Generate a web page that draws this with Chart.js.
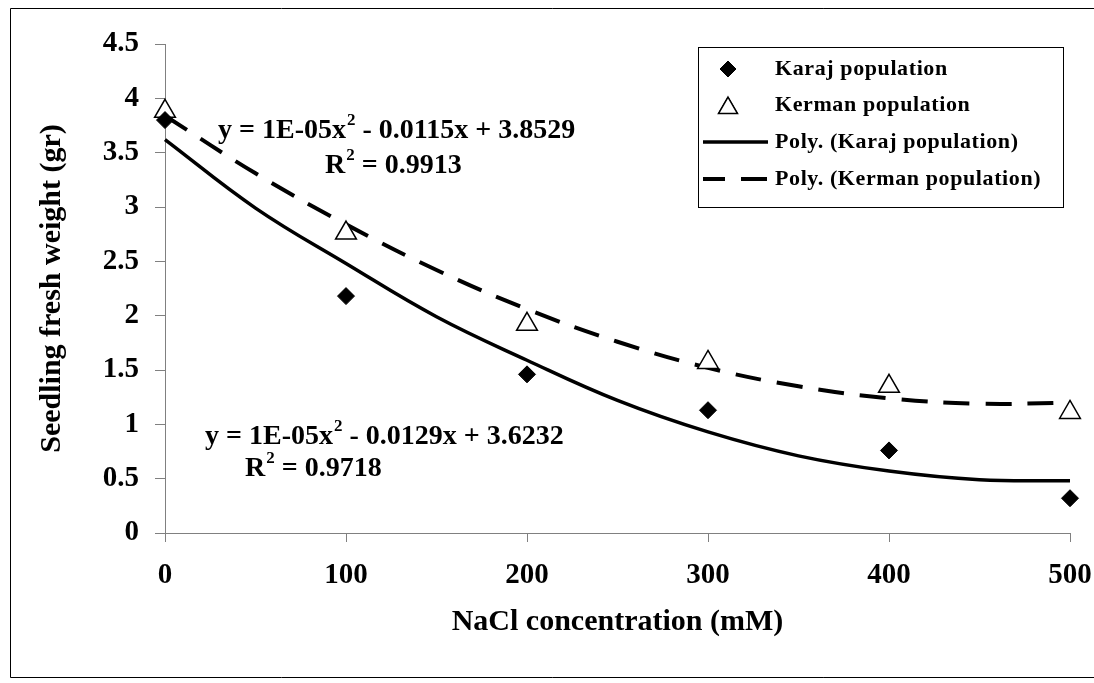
<!DOCTYPE html>
<html>
<head>
<meta charset="utf-8">
<script src="https://cdn.jsdelivr.net/npm/chart.js@4.4.0/dist/chart.umd.min.js"></script>
<style>
  html, body { margin: 0; padding: 0; background: #fff; }
  #wrap { width: 1094px; height: 683px; }
</style>
</head>
<body>
<div id="wrap"><canvas id="chart" width="1094" height="683"></canvas></div>
<script>
// data
const concentrations = [0, 100, 200, 300, 400, 500];
const karajWeight = [3.80, 2.18, 1.46, 1.13, 0.76, 0.32];
const kermanWeight = [3.88, 2.76, 1.92, 1.57, 1.35, 1.11];

// trend lines as drawn in the picture
const trendX = [0, 50, 100, 150, 200, 250, 300, 350, 400, 450, 500];
const karajTrend = [3.62, 2.99, 2.48, 1.99, 1.59, 1.22, 0.93, 0.71, 0.57, 0.49, 0.48];
const kermanTrend = [3.84, 3.31, 2.84, 2.42, 2.06, 1.76, 1.52, 1.35, 1.24, 1.19, 1.20];

const xTicks = [0, 100, 200, 300, 400, 500];
const yTicks = [0, 0.5, 1, 1.5, 2, 2.5, 3, 3.5, 4, 4.5];

const seriesNames = ['Karaj population', 'Kerman population', 'Poly. (Karaj population)', 'Poly. (Kerman population)'];
const kermanEquation = ['y = 1E-05x', '2', ' - 0.0115x + 3.8529'];
const kermanR2 = ['R', '2', ' = 0.9913'];
const karajEquation = ['y = 1E-05x', '2', ' - 0.0129x + 3.6232'];
const karajR2 = ['R', '2', ' = 0.9718'];

const serif = "'Liberation Serif', 'Times New Roman', serif";
const axisGray = '#808080';

function toXY(xs, ys) {
  return xs.map((x, i) => ({ x: x, y: ys[i] }));
}

// text with a raised "2"
function drawSupText(ctx, parts, x, y, size) {
  ctx.save();
  ctx.fillStyle = '#000';
  ctx.textBaseline = 'middle';
  ctx.textAlign = 'left';
  ctx.font = 'bold ' + size + 'px ' + serif;
  ctx.fillText(parts[0], x, y);
  x += ctx.measureText(parts[0]).width;
  ctx.font = 'bold ' + Math.round(size * 0.6) + 'px ' + serif;
  ctx.fillText(parts[1], x + 1, y - size * 0.38);
  x += ctx.measureText(parts[1]).width + 1;
  ctx.font = 'bold ' + size + 'px ' + serif;
  ctx.fillText(parts[2], x, y);
  ctx.restore();
}

const extras = {
  id: 'extras',
  afterDraw(chart) {
    const ctx = chart.ctx;

    // outer frame
    ctx.save();
    ctx.strokeStyle = '#000';
    ctx.lineWidth = 1;
    ctx.beginPath();
    ctx.moveTo(1094, 8.5);
    ctx.lineTo(10.5, 8.5);
    ctx.lineTo(10.5, 677.5);
    ctx.lineTo(1094, 677.5);
    ctx.stroke();
    ctx.restore();

    // trend line labels
    drawSupText(ctx, kermanEquation, 218, 131, 28);
    drawSupText(ctx, kermanR2, 325, 166, 28);
    drawSupText(ctx, karajEquation, 205, 437, 28);
    drawSupText(ctx, karajR2, 245, 469, 28);

    // legend
    const box = { left: 698, top: 47, right: 1063, bottom: 207 };
    ctx.save();
    ctx.fillStyle = '#fff';
    ctx.fillRect(box.left, box.top, box.right - box.left, box.bottom - box.top);
    ctx.strokeStyle = '#000';
    ctx.lineWidth = 1;
    ctx.strokeRect(box.left + 0.5, box.top + 0.5, box.right - box.left, box.bottom - box.top);
    const rows = [69, 105, 142, 179];
    chart.data.datasets.forEach((ds, i) => {
      const y = rows[i];
      if (ds.showLine) {
        ctx.save();
        ctx.strokeStyle = ds.borderColor;
        ctx.lineWidth = ds.borderWidth;
        ctx.setLineDash(ds.borderDash || []);
        ctx.lineDashOffset = ds.borderDash ? 4 : 0;
        ctx.beginPath();
        ctx.moveTo(703, y);
        ctx.lineTo(768, y);
        ctx.stroke();
        ctx.restore();
      } else {
        Chart.helpers.drawPoint(ctx, {
          pointStyle: ds.pointStyle,
          radius: ds.legendRadius,
          borderWidth: ds.borderWidth,
          rotation: 0
        }, 728, y + (ds.pointStyle === 'triangle' ? 3 : 0));
        ctx.fillStyle = ds.backgroundColor;
        ctx.strokeStyle = ds.borderColor;
        ctx.lineWidth = ds.borderWidth;
        ctx.fill();
        ctx.stroke();
      }
      ctx.fillStyle = '#000';
      ctx.font = 'bold 22px ' + serif;
      ctx.letterSpacing = '0.6px';
      ctx.textAlign = 'left';
      ctx.textBaseline = 'middle';
      ctx.fillText(ds.label, 775, y);
      ctx.letterSpacing = '0px';
    });
    ctx.restore();
  }
};

new Chart(document.getElementById('chart'), {
  type: 'scatter',
  data: {
    datasets: [
      {
        label: seriesNames[0],
        data: toXY(concentrations, karajWeight),
        pointStyle: 'rectRot',
        pointRadius: 8.5,
        legendRadius: 8,
        backgroundColor: '#000',
        borderColor: '#000',
        borderWidth: 1,
        showLine: false,
        order: 0
      },
      {
        label: seriesNames[1],
        data: toXY(concentrations, kermanWeight),
        pointStyle: 'triangle',
        pointRadius: 12,
        legendRadius: 11,
        backgroundColor: '#fff',
        borderColor: '#000',
        borderWidth: 1.5,
        showLine: false,
        order: 1
      },
      {
        label: seriesNames[2],
        data: toXY(trendX, karajTrend),
        showLine: true,
        pointRadius: 0,
        borderColor: '#000',
        borderWidth: 3.5,
        tension: 0.4,
        order: 3
      },
      {
        label: seriesNames[3],
        data: toXY(trendX, kermanTrend),
        showLine: true,
        pointRadius: 0,
        borderColor: '#000',
        borderWidth: 4,
        borderDash: [26, 16],
        tension: 0.4,
        order: 2
      }
    ]
  },
  options: {
    responsive: false,
    devicePixelRatio: 1,
    animation: false,
    clip: false,
    layout: { padding: { left: 0, top: 44, right: 24, bottom: 0 } },
    plugins: {
      legend: { display: false },
      tooltip: { enabled: false }
    },
    scales: {
      x: {
        type: 'linear',
        min: 0,
        max: 500,
        afterBuildTicks: (scale) => { scale.ticks = xTicks.map(v => ({ value: v })); },
        afterFit: (scale) => {
          scale.height = 150;
          scale.paddingLeft = 0;
          scale.paddingRight = 0;
        },
        ticks: {
          color: '#000',
          padding: 16,
          font: { family: serif, size: 29, weight: 'bold' },
          callback: (v) => String(v)
        },
        grid: { drawOnChartArea: false, drawTicks: true, tickLength: 9, color: axisGray },
        border: { color: axisGray, width: 1 },
        title: {
          display: true,
          text: 'NaCl concentration (mM)',
          color: '#000',
          font: { family: serif, size: 30, weight: 'bold' },
          padding: { top: 0, bottom: 43 }
        }
      },
      y: {
        type: 'linear',
        min: 0,
        max: 4.5,
        afterBuildTicks: (scale) => { scale.ticks = yTicks.map(v => ({ value: v })); },
        afterFit: (scale) => { scale.width = 165; },
        ticks: {
          color: '#000',
          padding: 16,
          font: { family: serif, size: 29, weight: 'bold' },
          callback: (v) => String(v)
        },
        grid: { drawOnChartArea: false, drawTicks: true, tickLength: 10, color: axisGray },
        border: { color: axisGray, width: 1 },
        title: {
          display: true,
          text: 'Seedling fresh weight (gr)',
          color: '#000',
          font: { family: serif, size: 30, weight: 'bold' },
          padding: { top: 34, bottom: 0 }
        }
      }
    }
  },
  plugins: [extras]
});
</script>
</body>
</html>
